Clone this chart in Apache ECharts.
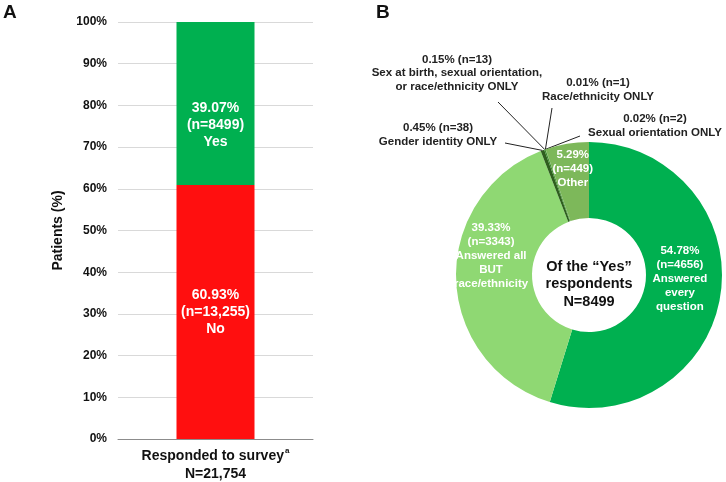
<!DOCTYPE html>
<html>
<head>
<meta charset="utf-8">
<script src="https://cdn.jsdelivr.net/npm/echarts@6/dist/echarts.min.js"></script>
<style>html,body{margin:0;padding:0;background:#fff}#c{width:726px;height:482px}</style>
</head>
<body>
<div id="c"></div>
<script>
// ---- Panel A data ----
const barCategories = ['Responded to survey'];
const noValues = [60.93];
const yesValues = [39.07];
const noLabel = ['60.93%', '(n=13,255)', 'No'];
const yesLabel = ['39.07%', '(n=8499)', 'Yes'];
const yTickMax = 100;
const yTickStep = 10;

// ---- Panel B data ----
const pieNames = ['Answered every question', 'Answered all BUT race/ethnicity', 'Gender identity ONLY',
  'Sex at birth, sexual orientation, or race/ethnicity ONLY', 'Race/ethnicity ONLY', 'Sexual orientation ONLY', 'Other'];
const pieValues = [54.78, 39.33, 0.45, 0.15, 0.01, 0.02, 5.29];
const pieCounts = [4656, 3343, 38, 13, 1, 2, 449];
const pieColors = ['#00B050', '#8FD873', '#2E5E1E', '#3C8C2C', '#3C8C2C', '#3C8C2C', '#7DB85A'];

const font = 'Liberation Sans, Arial, sans-serif';
const chart = echarts.init(document.getElementById('c'));

// Label layout (positions only)
const outsidePos = {
  2: {x: 438, y: 135, ax: 67, ay: 8},
  3: {x: 457, y: 73, ax: 41, ay: 29},
  4: {x: 598, y: 90, ax: -46, ay: 18},
  5: {x: 655, y: 126, ax: -75, ay: 10}
};
const insideShift = {0: [-6, -11], 1: [0, -23], 6: [0, -10]};

const pieData = pieValues.map((v, i) => {
  const d = {name: pieNames[i], value: v, itemStyle: {color: pieColors[i]}};
  if (i === 0 || i === 1 || i === 6) {
    d.label = {show: true, position: 'inside', color: '#fff', fontWeight: 'bold', fontSize: 11.5,
      fontFamily: font, lineHeight: 14};
    if (i === 0) d.label.formatter = v.toFixed(2) + '%\n(n=' + pieCounts[i] + ')\nAnswered\nevery\nquestion';
    if (i === 1) d.label.formatter = v.toFixed(2) + '%\n(n=' + pieCounts[i] + ')\nAnswered all\nBUT\nrace/ethnicity';
    if (i === 6) d.label.formatter = v.toFixed(2) + '%\n(n=' + pieCounts[i] + ')\nOther';
    d.labelLine = {show: false};
  } else {
    const titles = {2: 'Gender identity ONLY', 3: 'Sex at birth, sexual orientation,\nor race/ethnicity ONLY',
      4: 'Race/ethnicity ONLY', 5: 'Sexual orientation ONLY'};
    d.label = {show: true, position: 'outside', color: '#222', fontWeight: 'bold', fontSize: 11.5,
      fontFamily: font, lineHeight: 13.5, align: 'center',
      formatter: v.toFixed(2) + '% (n=' + pieCounts[i] + ')\n' + titles[i]};
    d.labelLine = {show: true, length: 10, length2: 10, lineStyle: {color: '#222', width: 1}};
  }
  return d;
});

const option = {
  animation: false,
  textStyle: {fontFamily: font},
  grid: {left: 118, right: 413, top: 22, bottom: 43},
  xAxis: {
    type: 'category', data: barCategories,
    axisLine: {lineStyle: {color: '#8c8c8c', width: 1}},
    axisTick: {show: false},
    axisLabel: {
      margin: 8, interval: 0,
      formatter: (v) => '{b|' + v + '}{s|a}\n{b|N=21,754}',
      rich: {
        b: {fontSize: 14, fontWeight: 'bold', color: '#111', fontFamily: font, lineHeight: 18},
        s: {fontSize: 8, fontWeight: 'bold', color: '#111', fontFamily: font, verticalAlign: 'top', padding: [0, 0, 6, 1]}
      }
    }
  },
  yAxis: {
    type: 'value', min: 0, max: yTickMax, interval: yTickStep,
    name: 'Patients (%)', nameLocation: 'middle', nameRotate: 90, nameGap: 53,
    nameTextStyle: {fontSize: 14, fontWeight: 'bold', color: '#111', fontFamily: font},
    axisLabel: {formatter: '{value}%', fontSize: 12, fontWeight: 'bold', color: '#111', margin: 11, fontFamily: font},
    splitLine: {lineStyle: {color: '#d9d9d9'}},
    axisLine: {show: false}, axisTick: {show: false}
  },
  series: [
    {
      type: 'bar', stack: 's', data: noValues, barWidth: 78,
      itemStyle: {color: '#FF0F0F'},
      label: {show: true, position: 'inside', color: '#fff', fontWeight: 'bold', fontSize: 14,
        fontFamily: font, lineHeight: 17, formatter: noLabel.join('\n')}
    },
    {
      type: 'bar', stack: 's', data: yesValues, barWidth: 78,
      itemStyle: {color: '#00B050'},
      label: {show: true, position: 'inside', offset: [0, 22], color: '#fff', fontWeight: 'bold', fontSize: 14,
        fontFamily: font, lineHeight: 17, formatter: yesLabel.join('\n')}
    },
    {
      type: 'pie', center: [589, 275], radius: [57, 133], startAngle: 90, clockwise: true,
      avoidLabelOverlap: false,
      data: pieData,
      labelLayout: function (p) {
        const sh = insideShift[p.dataIndex];
        if (sh) return {dx: sh[0], dy: sh[1]};
        const pos = outsidePos[p.dataIndex];
        if (!pos) return {};
        const pts = p.labelLinePoints;
        const res = {x: pos.x, y: pos.y, align: 'center', verticalAlign: 'middle'};
        if (pts && pts.length) res.labelLinePoints = [pts[0], [pos.x + pos.ax, pos.y + pos.ay]];
        return res;
      }
    }
  ],
  graphic: [
    {type: 'text', left: 3, top: 3, style: {text: 'A', fontSize: 19, fontWeight: 'bold', fill: '#111', fontFamily: font}},
    {type: 'text', left: 376, top: 3, style: {text: 'B', fontSize: 19, fontWeight: 'bold', fill: '#111', fontFamily: font}},
    {type: 'text', x: 589, y: 284, style: {text: 'Of the \u201cYes\u201d\nrespondents\nN=8499', fontSize: 14.5,
      fontWeight: 'bold', fill: '#111', fontFamily: font, align: 'center', verticalAlign: 'middle', lineHeight: 17.5}}
  ]
};
chart.setOption(option);
</script>
</body>
</html>
